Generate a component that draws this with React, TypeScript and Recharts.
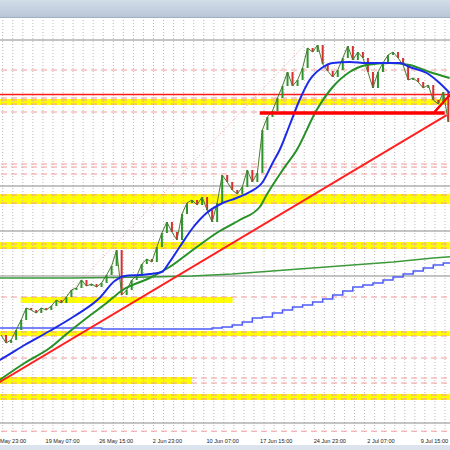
import React from 'react';
import { ComposedChart, Line, ErrorBar, XAxis, YAxis, ReferenceLine, ReferenceArea } from 'recharts';

// x unit: H4 bar index counted from the first (partly hidden) date label; y: price
const labelBars = [0, 32, 64, 96, 128, 160, 192, 224, 256];
const labelText = ['May 23:00', '19 May 07:00', '26 May 15:00', '2 Jun 23:00', '10 Jun 07:00', '17 Jun 15:00', '24 Jun 23:00', '2 Jul 07:00', '9 Jul 15:00'];

const priceStartBar = 6;
const priceStep = 3;
const closes = [
  1.10975, 1.10775, 1.1085, 1.111, 1.1135, 1.1165, 1.116, 1.11525, 1.1165, 1.116,
  1.117, 1.1185, 1.11775, 1.11925, 1.121, 1.1215, 1.1235, 1.122, 1.1225, 1.12175,
  1.12275, 1.12475, 1.127, 1.131, 1.11975, 1.121, 1.1235, 1.1245, 1.1275, 1.12875,
  1.128, 1.13175, 1.13525, 1.138, 1.1355, 1.1335, 1.14, 1.14275, 1.1435, 1.14225,
  1.14425, 1.141, 1.138, 1.14275, 1.14975, 1.148, 1.146, 1.145, 1.14675, 1.151,
  1.148, 1.15025, 1.161, 1.16425, 1.16575, 1.169, 1.172, 1.1755, 1.172, 1.1735,
  1.1765, 1.1815, 1.1805, 1.18225, 1.1775, 1.17575, 1.17425, 1.176, 1.179, 1.182,
  1.1785, 1.1805, 1.179, 1.1755, 1.1715, 1.1755, 1.17775, 1.17975, 1.1805, 1.179,
  1.17725, 1.1735, 1.174, 1.173, 1.1715, 1.17225, 1.1685, 1.1675, 1.1705, 1.163,
];

const fastBlueBars = [0, 5.1, 20.1, 35.0, 49.9, 64.8, 73.8, 79.8, 88.7, 94.7, 101.9, 106.6, 112.6, 120.4, 128.7, 138.3, 146.6, 154.4, 162.2, 168.1, 172.3, 178.3, 184.2, 190.2, 197.4, 204.0, 214.1, 224.2, 233.8, 244.0, 249.9, 260.1, 267.8, 273.8];
const fastBlueVals = [1.1025, 1.1035, 1.10725, 1.11075, 1.1145, 1.119, 1.12325, 1.1245, 1.12475, 1.125, 1.1255, 1.128, 1.13175, 1.1365, 1.14025, 1.14275, 1.144, 1.1455, 1.148, 1.15275, 1.156, 1.16225, 1.1685, 1.1735, 1.1765, 1.17775, 1.178, 1.17775, 1.17775, 1.17775, 1.17675, 1.17525, 1.17275, 1.17025];

const fastGreenBars = [0, 5.1, 20.1, 35.0, 45.1, 57.1, 69.0, 78.6, 94.7, 106.6, 120.4, 134.7, 148.4, 160.4, 164.5, 174.1, 182.5, 194.4, 204.0, 214.1, 224.2, 238.0, 249.9, 261.9, 273.8];
const fastGreenVals = [1.097, 1.0985, 1.10275, 1.1065, 1.11, 1.114, 1.11775, 1.121, 1.124, 1.12675, 1.131, 1.13525, 1.1385, 1.14175, 1.14475, 1.151, 1.156, 1.166, 1.17175, 1.1755, 1.17725, 1.17775, 1.17725, 1.1755, 1.174];

const slowBlueStep = 6;
const slowBlueVals = [
  1.1115, 1.1115, 1.1115, 1.1115, 1.1115, 1.1115, 1.1115, 1.1115, 1.1115, 1.1115, 1.1115,
  1.11125, 1.11125, 1.11125, 1.11125, 1.11125, 1.11125, 1.11125, 1.11125, 1.11125, 1.11125, 1.11125,
  1.1115, 1.11175, 1.11225, 1.113, 1.114, 1.11425, 1.11525, 1.116, 1.11675, 1.11725, 1.118,
  1.11875, 1.11975, 1.12075, 1.12175, 1.12225, 1.12275, 1.1235, 1.12425, 1.125, 1.12575,
  1.1265, 1.12725, 1.12775, 1.12825,
];

const slowGreenBars = [0, 48, 96, 120, 144, 168, 192, 216, 240, 264, 276];
const slowGreenVals = [1.124, 1.124, 1.12425, 1.1245, 1.125, 1.12575, 1.1265, 1.12725, 1.128, 1.129, 1.1294];

const yellowFull = [[1.16725, 1.16875], [1.1425, 1.145], [1.13125, 1.133], [1.1095, 1.11075], [1.0935, 1.095]];
const yellowPartial = [
  { x1: 17.7, x2: 144.2, y1: 1.11775, y2: 1.11925 },
  { x1: 0, x2: 119.8, y1: 1.0975, y2: 1.09925 },
];
const pinkLevels = [1.176, 1.169, 1.1685, 1.1675, 1.1655, 1.1525, 1.15175, 1.15, 1.14475, 1.14275, 1.1325, 1.1315, 1.11925, 1.1105, 1.1095, 1.104, 1.099, 1.09775, 1.09475, 1.09375, 1.0857];
const grayLevels = [1.1835, 1.147, 1.13575, 1.1245, 1.08775];
const redLevel = 1.169875;
const supportLevel = { x1: 160.4, x2: 270.8, y: 1.16525 };
const trendPts = [{ x: 0, y: 1.0967 }, { x: 272, y: 1.1647 }];
const dottedPts = [{ x: 38, y: 1.1165 }, { x: 187.2, y: 1.18225 }];
const arrowShaft = [{ x: 264.8, y: 1.1655 }, { x: 273.8, y: 1.16975 }];
const arrowHead = [{ x: 264.8, y: 1.1655 }, { x: 269.0, y: 1.1675 }];
const gridStart = 7;
const gridStep = 6;

// candle bodies from the previous close to this close, as error bars around the close
const priceData = closes.map((c, i) => {
  const o = i === 0 ? c : closes[i - 1];
  const up = c >= o;
  return {
    bar: priceStartBar + priceStep * i,
    close: c,
    upErr: up ? [c - o, 0] : [0, 0],
    downErr: up ? [0, 0] : [0, o - c],
  };
});
const fastBlue = fastBlueBars.map((b, i) => ({ bar: b, v: fastBlueVals[i] }));
const fastGreen = fastGreenBars.map((b, i) => ({ bar: b, v: fastGreenVals[i] }));
const slowBlue = slowBlueVals.map((v, i) => ({ bar: i * slowBlueStep, v }));
const slowGreen = slowGreenBars.map((b, i) => ({ bar: b, v: slowGreenVals[i] }));
const gridBars: number[] = [];
for (let b = gridStart; b < 274; b += gridStep) gridBars.push(b);

const Tick = (props: any) => {
  const { x, y, payload } = props;
  const idx = labelBars.indexOf(payload.value);
  const tx = idx === 0 ? Math.max(x + 1, 9) : x + 1;
  return (
    <text x={tx} y={y + 9} fontSize={5.6} fill="#1a1a1a" fontFamily="Liberation Sans, Arial, sans-serif">
      {labelText[idx]}
    </text>
  );
};

export default function App() {
  return (
    <div style={{ position: 'absolute', left: 0, top: 0, width: 450, height: 450, overflow: 'hidden', background: '#ffffff' }}>
      <div style={{ position: 'absolute', left: -9, top: 0 }}>
        <ComposedChart width={459} height={450} data={priceData} margin={{ top: 18, right: 0, bottom: 0, left: 0 }}>
          <XAxis dataKey="bar" type="number" domain={[0, 274]} allowDataOverflow ticks={labelBars} interval={0} tick={<Tick />} tickLine={false} axisLine={false} height={18} tickSize={0} />
          <YAxis type="number" domain={[1.0855, 1.189]} allowDataOverflow hide />
          {gridBars.map((b) => (
            <ReferenceLine key={'g' + b} x={b} stroke="#b9b9b9" strokeDasharray="1 2" />
          ))}
          {yellowFull.map(([a, b], i) => (
            <ReferenceArea key={'yf' + i} y1={a} y2={b} fill="#ffff00" fillOpacity={1} stroke="none" />
          ))}
          {yellowPartial.map((r, i) => (
            <ReferenceArea key={'yp' + i} x1={r.x1} x2={r.x2} y1={r.y1} y2={r.y2} fill="#ffff00" fillOpacity={1} stroke="none" />
          ))}
          {pinkLevels.map((v, i) => (
            <ReferenceLine key={'p' + i} y={v} stroke="#f49a9a" strokeDasharray="6 4" />
          ))}
          {grayLevels.map((v, i) => (
            <ReferenceLine key={'gr' + i} y={v} stroke="#8a8a8a" />
          ))}
          <ReferenceLine y={redLevel} stroke="#ff1a1a" strokeWidth={1.5} />
          <ReferenceLine segment={dottedPts} stroke="#f4a0a0" strokeDasharray="1 2" />
          <Line data={slowGreen} dataKey="v" type="linear" stroke="#3c9a3c" strokeWidth={1.5} dot={false} isAnimationActive={false} />
          <Line data={slowBlue} dataKey="v" type="stepAfter" stroke="#4c5cf5" strokeWidth={1.5} dot={false} isAnimationActive={false} />
          <Line dataKey="close" type="linear" stroke="#4a7a32" strokeWidth={1} dot={false} isAnimationActive={false}>
            <ErrorBar dataKey="upErr" direction="y" width={0} stroke="#2c962c" strokeWidth={2} />
            <ErrorBar dataKey="downErr" direction="y" width={0} stroke="#d63030" strokeWidth={2} />
          </Line>
          <Line data={fastGreen} dataKey="v" type="monotone" stroke="#269126" strokeWidth={2} dot={false} isAnimationActive={false} />
          <Line data={fastBlue} dataKey="v" type="monotone" stroke="#1c2be8" strokeWidth={2} dot={false} isAnimationActive={false} />
          <ReferenceLine segment={trendPts} stroke="#ff2020" strokeWidth={2} />
          <ReferenceLine segment={[{ x: supportLevel.x1, y: supportLevel.y }, { x: supportLevel.x2, y: supportLevel.y }]} stroke="#ff0000" strokeWidth={3.5} />
          <ReferenceLine segment={arrowShaft} stroke="#ff0000" strokeWidth={2} />
          <ReferenceLine segment={arrowHead} stroke="#ff0000" strokeWidth={2} />
        </ComposedChart>
      </div>
      <div style={{ position: 'absolute', left: 0, top: 0, width: 450, height: 17, background: 'linear-gradient(#d3dde8, #b7c6d7)', borderBottom: '1px solid #9fb0c2' }} />
      <div style={{ position: 'absolute', left: 0, top: 445, width: 450, height: 5, background: '#dbe4ee' }} />
    </div>
  );
}
